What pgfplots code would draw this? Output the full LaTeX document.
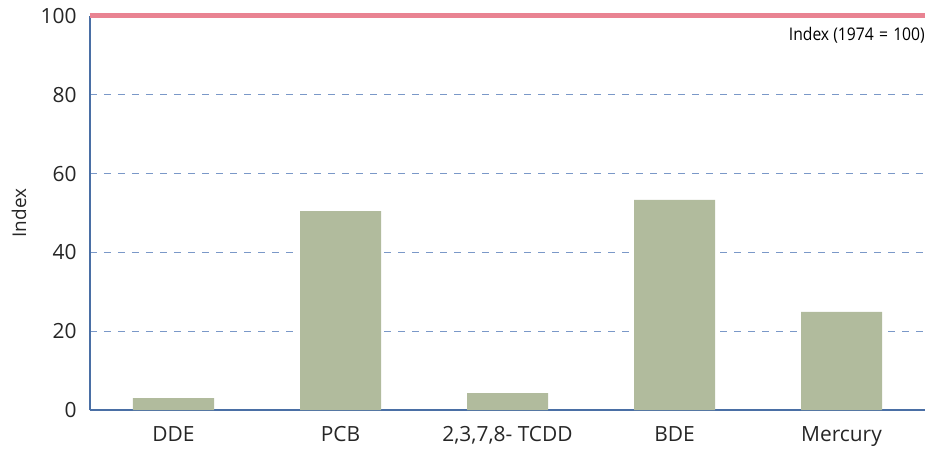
\documentclass[border=0pt]{standalone}
\usepackage{pgfplots}
\pgfplotsset{compat=1.18}
\usepackage{fontspec}
\setmainfont{Open Sans}
\newfontfamily\condfont[FakeStretch=0.9]{Open Sans}
\definecolor{barc}{RGB}{177,187,157}
\definecolor{axc}{RGB}{74,111,165}
\definecolor{gridc}{RGB}{122,152,200}
\definecolor{redc}{RGB}{233,131,146}
\begin{document}
\begin{tikzpicture}
\begin{axis}[
  scale only axis, width=835bp, height=394bp,
  xmin=-0.5, xmax=4.5, ymin=0, ymax=100,
  axis x line*=bottom, axis y line*=left,
  axis line style={axc, line width=2.8bp, -},
  xtick={0,1,2,3,4},
  xticklabels={DDE,PCB,{2,3,7,8- TCDD},BDE,Mercury},
  ytick={0,20,40,60,80,100},
  major tick length=0pt,
  ymajorgrids, grid style={gridc, line width=0.9bp, dash pattern=on 7bp off 7bp},
  tick label style={font=\fontsize{21}{24}\selectfont, text=black!85},
  /pgf/number format/assume math mode=true,
  yticklabel style={xshift=-10bp},
  xticklabel style={yshift=-13bp},
  clip=false,
]
\addplot[ybar, bar width=81bp, fill=barc, draw=none, bar shift=0pt] coordinates {
  (0,3.0) (1,50.5) (2,4.3) (3,53.3) (4,24.9)};
\addplot[redc, line width=5bp, no marks] coordinates {(-0.5,100) (4.5,100)};
\node[anchor=north east, inner sep=0pt, font=\condfont\fontsize{17.5}{20}\selectfont] at (axis cs:4.5,97.3) {Index (1974\hspace{0.3em}=\hspace{0.3em}100)};
\node[rotate=90, font=\fontsize{19}{22}\selectfont, text=black!85] at (rel axis cs:-0.085,0.5) {Index};
\end{axis}
\path (current axis.south west) ++(-90bp,-41bp) coordinate (bl);
\path (current axis.south west) ++(843bp,410bp) coordinate (tr);
\path (bl) rectangle (tr);
\end{tikzpicture}
\end{document}
